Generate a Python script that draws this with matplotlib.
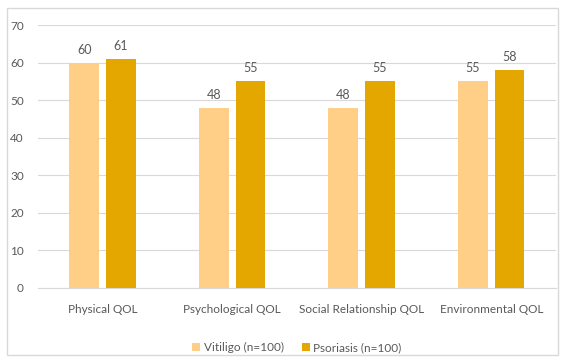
import numpy as np
import matplotlib.pyplot as plt
from matplotlib.patches import Rectangle

categories = ['Physical QOL', 'Psychological QOL', 'Social Relationship QOL', 'Environmental QOL']
vitiligo = [60, 48, 48, 55]
psoriasis = [61, 55, 55, 58]
series_names = ['Vitiligo (n=100)', 'Psoriasis (n=100)']

plt.rcParams['font.family'] = ['Lato', 'DejaVu Sans']
txt = '#595959'

fig = plt.figure(figsize=(5.65, 3.58), dpi=100)
ax = fig.add_axes([0.067, 0.196, 0.917, 0.734])

# light frame around the whole chart
fig.patches.append(Rectangle((0.012, 0.008), 0.976, 0.97, transform=fig.transFigure,
                             fill=False, edgecolor='#D9D9D9', linewidth=1.0))

x = np.arange(len(categories))
w = 0.23
off = 0.142
b1 = ax.bar(x - off, vitiligo, w, color='#FFCF87', label=series_names[0], zorder=3)
b2 = ax.bar(x + off, psoriasis, w, color='#E3A700', label=series_names[1], zorder=3)
for bars in (b1, b2):
    ax.bar_label(bars, padding=5, fontsize=9, color=txt)

ax.set_xlim(-0.5, len(categories) - 0.5)
ax.set_ylim(0, 70)
ax.set_yticks(range(0, 71, 10))
ax.set_xticks(x)
ax.set_xticklabels(categories)
ax.grid(axis='y', color='#D9D9D9', linewidth=0.8, zorder=0)
for s in ['top', 'right', 'left']:
    ax.spines[s].set_visible(False)
ax.spines['bottom'].set_color('#D9D9D9')
ax.tick_params(length=0, colors=txt, labelsize=8.5)
ax.tick_params(axis='x', pad=12)
ax.tick_params(axis='y', pad=10)

ax.legend(loc='upper center', bbox_to_anchor=(0.5, -0.165), ncol=2, frameon=False,
          fontsize=8.5, labelcolor=txt, handlelength=0.7, handleheight=0.7,
          handletextpad=0.3, columnspacing=1.5)

fig.savefig('out.png', dpi=100)
